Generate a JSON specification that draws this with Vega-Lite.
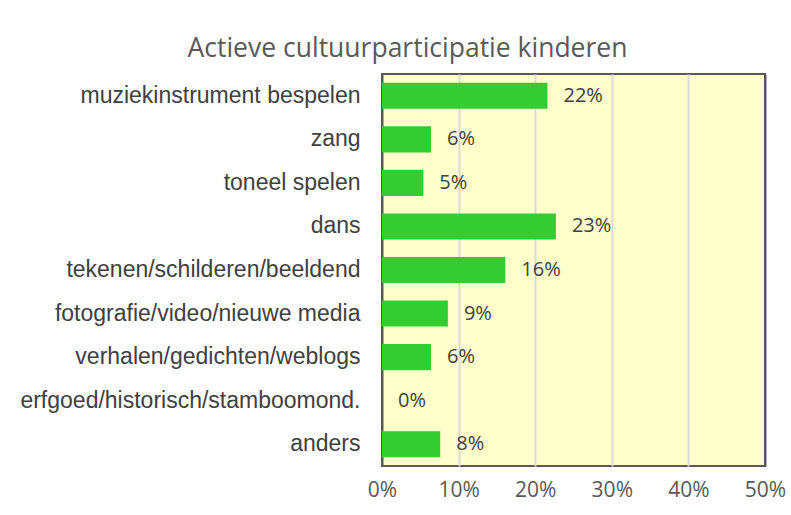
{
  "$schema": "https://vega.github.io/schema/vega-lite/v6.json",
  "width": 383,
  "height": 392,
  "autosize": {"type": "none"},
  "padding": {"left": 382, "top": 74, "right": 26, "bottom": 49},
  "background": "white",
  "title": {
    "text": "Actieve cultuurparticipatie kinderen",
    "anchor": "middle",
    "dx": -166,
    "offset": 12,
    "font": "Open Sans",
    "fontSize": 26.5,
    "fontWeight": "normal",
    "color": "#595959"
  },
  "data": {
    "values": [
      {"cat": "muziekinstrument bespelen", "v": 0.216},
      {"cat": "zang", "v": 0.064},
      {"cat": "toneel spelen", "v": 0.054},
      {"cat": "dans", "v": 0.227},
      {"cat": "tekenen/schilderen/beeldend", "v": 0.161},
      {"cat": "fotografie/video/nieuwe media", "v": 0.086},
      {"cat": "verhalen/gedichten/weblogs", "v": 0.064},
      {"cat": "erfgoed/historisch/stamboomond.", "v": 0.0},
      {"cat": "anders", "v": 0.076}
    ]
  },
  "encoding": {
    "y": {
      "field": "cat",
      "type": "nominal",
      "sort": null,
      "title": null,
      "scale": {"paddingInner": 0.4, "paddingOuter": 0.2},
      "axis": {
        "ticks": false,
        "domain": false,
        "labelPadding": 22,
        "labelFont": "Liberation Sans",
        "labelFontSize": 23,
        "labelColor": "#404040",
        "labelLimit": 400
      }
    },
    "x": {
      "field": "v",
      "type": "quantitative",
      "title": null,
      "scale": {"domain": [0, 0.5], "nice": false},
      "axis": {
        "format": ".0%",
        "values": [0, 0.1, 0.2, 0.3, 0.4, 0.5],
        "ticks": false,
        "domain": false,
        "grid": true,
        "gridColor": {"condition": {"test": "datum.value == 0 || datum.value == 0.5", "value": "#595959"}, "value": "#d9d9d9"},
        "gridWidth": 2,
        "labelPadding": 13,
        "labelFont": "Open Sans",
        "labelFontSize": 21,
        "labelColor": "#595959",
        "labelFlush": false
      }
    }
  },
  "layer": [
    {"mark": {"type": "bar", "color": "#33cc33"}},
    {
      "mark": {"type": "text", "align": "left", "dx": 16, "font": "Open Sans", "fontSize": 20, "color": "#404040"},
      "encoding": {"text": {"field": "v", "format": ".0%"}}
    }
  ],
  "config": {
    "view": {"fill": "#ffffcc", "stroke": "#595959", "strokeWidth": 2}
  }
}
